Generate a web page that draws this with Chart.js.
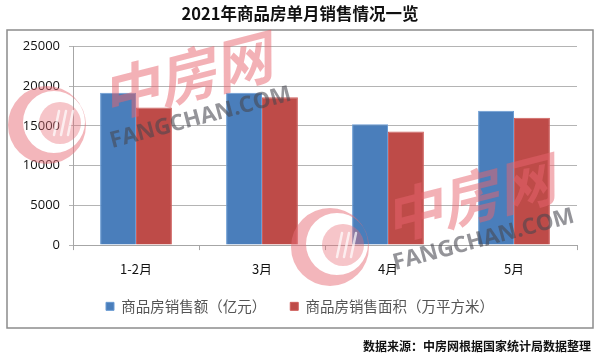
<!DOCTYPE html>
<html>
<head>
<meta charset="utf-8">
<script src="https://cdn.jsdelivr.net/npm/chart.js@4/dist/chart.umd.min.js"></script>
<style>
html, body { margin: 0; padding: 0; background: #fff; }
canvas { display: block; }
</style>
</head>
<body>
<canvas id="salesChart" width="600" height="363"></canvas>
<script>
const categories = ["1-2月", "3月", "4月", "5月"];
const salesAmount = [19150, 19150, 15200, 16880];
const salesArea = [17300, 18600, 14300, 16000];
const yTicks = [0, 5000, 10000, 15000, 20000, 25000];

const cjk = '"Noto Sans CJK SC", sans-serif';

// grey frame round the chart
const framePlugin = {
    id: "frame",
    beforeDraw(chart) {
        const c = chart.ctx;
        c.save();
        c.strokeStyle = "#8c8c8c";
        c.lineWidth = 1.5;
        c.strokeRect(7, 30, 586, 298);
        c.restore();
    }
};

function drawLogo(c, x, y) {
    c.fillStyle = "rgba(232,110,120,0.5)";
    c.beginPath();
    c.arc(x, y, 39, 0, Math.PI * 2);
    c.arc(x + 7, y - 3, 31, 0, Math.PI * 2, true);
    c.fill();
    c.fillStyle = "rgba(232,110,120,0.4)";
    c.beginPath();
    c.arc(x + 13, y - 2, 21, 0, Math.PI * 2);
    c.fill();
    c.strokeStyle = "rgba(255,255,255,0.7)";
    c.lineWidth = 2.5;
    c.lineCap = "round";
    [9, 16, 23].forEach(dx => {
        c.beginPath();
        c.moveTo(x + dx + 3, y - 14);
        c.lineTo(x + dx - 2, y + 10);
        c.stroke();
    });
}

function drawMark(c, dx, dy) {
    drawLogo(c, 47 + dx, 125 + dy);

    c.save();
    c.translate(186 + dx, 76 + dy);
    c.rotate(-0.25);
    c.font = 'italic bold 58px ' + cjk;
    c.fillStyle = "rgba(232,100,110,0.5)";
    c.textAlign = "center";
    c.textBaseline = "middle";
    c.fillText("中房网", 0, 0);
    c.restore();

    c.save();
    c.translate(112 + dx, 148 + dy);
    c.rotate(-0.26);
    c.font = 'bold 22.4px "Open Sans", sans-serif';
    c.fillStyle = "rgba(70,70,80,0.58)";
    c.textBaseline = "alphabetic";
    c.fillText("FANGCHAN.COM", 0, 0);
    c.restore();
}

// fangchan watermark sits on top of the bars
const watermarkPlugin = {
    id: "watermark",
    afterDraw(chart) {
        const c = chart.ctx;
        c.save();
        drawMark(c, 0, 0);
        drawMark(c, 283, 122);
        c.restore();
    }
};

new Chart(document.getElementById("salesChart"), {
    type: "bar",
    data: {
        labels: categories,
        datasets: [
            {
                label: "商品房销售额（亿元）",
                data: salesAmount,
                backgroundColor: "#4a7ebb",
                borderColor: "#6a9bd3",
                borderWidth: 1
            },
            {
                label: "商品房销售面积（万平方米）",
                data: salesArea,
                backgroundColor: "#be4b48",
                borderColor: "#cf5f5c",
                borderWidth: 1
            }
        ]
    },
    options: {
        responsive: false,
        animation: false,
        layout: {
            padding: { left: 9, right: 9, top: 0, bottom: 0 }
        },
        datasets: {
            bar: {
                categoryPercentage: 0.57,
                barPercentage: 1
            }
        },
        scales: {
            x: {
                border: { color: "#a6a6a6" },
                grid: {
                    offset: true,
                    drawOnChartArea: false,
                    color: "#a6a6a6",
                    tickLength: 5
                },
                ticks: {
                    color: "#111",
                    padding: 11,
                    font: { family: cjk, size: 13 }
                },
                afterFit(scale) {
                    scale.height = 30;
                }
            },
            y: {
                min: 0,
                max: 25000,
                border: { color: "#a6a6a6" },
                grid: {
                    color: "#b4b4b4",
                    tickLength: 4
                },
                afterBuildTicks(scale) {
                    scale.ticks = yTicks.map(v => ({ value: v }));
                },
                ticks: {
                    color: "#111",
                    padding: 9,
                    font: { family: '"Open Sans", sans-serif', size: 13 },
                    callback: v => String(v)
                },
                afterFit(scale) {
                    scale.width = 64;
                }
            },
            // empty right axis, only keeps the plot clear of the frame
            yRight: {
                position: "right",
                min: 0,
                max: 25000,
                border: { display: false },
                grid: { display: false },
                ticks: { display: false },
                afterFit(scale) {
                    scale.width = 14;
                }
            }
        },
        plugins: {
            title: {
                display: true,
                text: "2021年商品房单月销售情况一览",
                color: "#111",
                padding: { top: 4, bottom: 22.5 },
                font: { family: cjk, size: 16.5, weight: "bold" }
            },
            subtitle: {
                display: true,
                position: "bottom",
                align: "end",
                text: "数据来源：中房网根据国家统计局数据整理",
                color: "#111",
                padding: { top: 16, bottom: 9 },
                font: { family: cjk, size: 12, weight: "bold" }
            },
            legend: {
                position: "bottom",
                labels: {
                    boxWidth: 8,
                    boxHeight: 8,
                    padding: 24,
                    color: "#555",
                    font: { family: cjk, size: 14.5 }
                }
            },
            tooltip: { enabled: false }
        }
    },
    plugins: [framePlugin, watermarkPlugin]
});
</script>
</body>
</html>
